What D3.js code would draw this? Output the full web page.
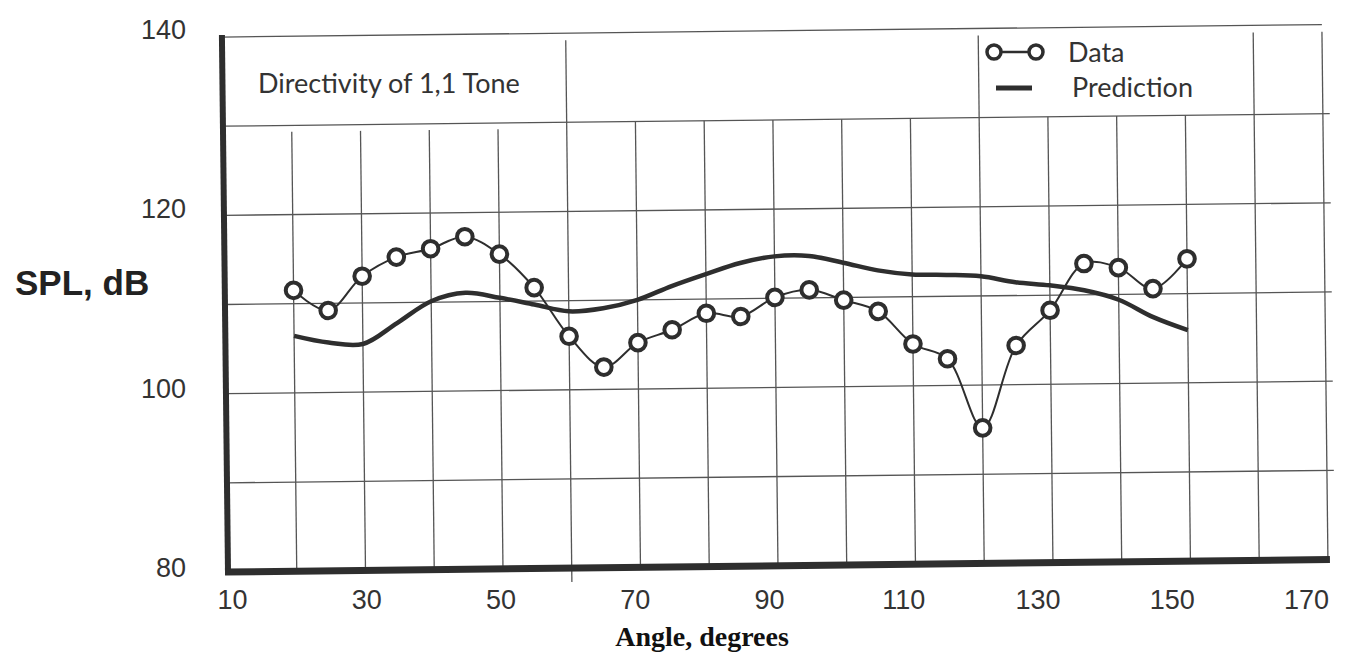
<!DOCTYPE html>
<html>
<head>
<meta charset="utf-8">
<script src="https://cdn.jsdelivr.net/npm/d3@7"></script>
<style>
  body { margin: 0; background: #fff; }
  svg { display: block; }
</style>
</head>
<body>
<svg id="chart" width="1351" height="652"></svg>
<script>
// angle (degrees) of each measurement
const angles = [20, 25, 30, 35, 40, 45, 50, 55, 60, 65, 70, 75, 80, 85, 90,
  95, 100, 105, 110, 115, 120, 125, 130, 135, 140, 145, 150];
// measured SPL, dB
const dataSPL = [111.5, 109.2, 113.0, 115.1, 116.0, 117.3, 115.3, 111.5, 106.0,
  102.5, 105.2, 106.6, 108.4, 108.0, 110.1, 110.9, 109.7, 108.4, 104.7, 103.0,
  95.2, 104.4, 108.3, 113.5, 113.0, 110.6, 113.9];
// predicted SPL, dB
const predSPL = [106.4, 105.6, 105.4, 107.7, 110.1, 111.0, 110.4, 109.6, 108.8,
  109.1, 110.0, 111.5, 112.8, 114.0, 114.7, 114.7, 113.9, 113.0, 112.5, 112.4,
  112.2, 111.5, 111.1, 110.5, 109.4, 107.4, 105.9];

const xTicks = [10, 30, 50, 70, 90, 110, 130, 150, 170];
const yTicks = [80, 100, 120, 140];
const xGrid = [20, 30, 40, 50, 60, 70, 80, 90, 100, 110, 120, 130, 140, 150, 160, 170];
const xGridTall = [60, 120, 160, 170];
const yGrid = [90, 100, 110, 120, 130];

const ox = 228, oy = 572, W = 1100, H = 535, tilt = -0.65;
const ink = "#2e2e2e";

const svg = d3.select("#chart");
const x = d3.scaleLinear().domain([10, 170]).range([0, W]);
const y = d3.scaleLinear().domain([80, 140]).range([0, -H]);

// the whole plot frame is drawn slightly tilted, like the scanned original
const g = svg.append("g")
  .attr("transform", `translate(${ox},${oy}) rotate(${tilt})`);

// grid
g.append("g").selectAll("line")
  .data(yGrid)
  .enter()
  .append("line")
  .attr("x1", 0).attr("x2", x(171))
  .attr("y1", d => y(d)).attr("y2", d => y(d))
  .style("stroke", "#555").style("stroke-width", 1.3);

g.append("line")
  .attr("x1", 0).attr("x2", x(170))
  .attr("y1", y(140)).attr("y2", y(140))
  .style("stroke", "#555").style("stroke-width", 1.3);

g.append("g").selectAll("line")
  .data(xGrid)
  .enter()
  .append("line")
  .attr("x1", d => x(d)).attr("x2", d => x(d))
  .attr("y1", 0)
  .attr("y2", d => xGridTall.includes(d) ? y(139.2) : (d <= 50 ? y(129.3) : y(130)))
  .style("stroke", "#555").style("stroke-width", 1.3);

// little tick under the axis at 60
g.append("line")
  .attr("x1", x(60)).attr("x2", x(60))
  .attr("y1", 0).attr("y2", 14)
  .style("stroke", "#555").style("stroke-width", 1.3);

// axes (thick dark lines)
g.append("line")
  .attr("x1", 0).attr("x2", 0)
  .attr("y1", y(140) - 2).attr("y2", 3)
  .style("stroke", ink).style("stroke-width", 6);
g.append("line")
  .attr("x1", -3).attr("x2", x(170) + 2)
  .attr("y1", 0).attr("y2", 0)
  .style("stroke", ink).style("stroke-width", 7);

// prediction curve
const pts = angles.map((a, i) => ({ a: a, d: dataSPL[i], p: predSPL[i] }));

g.append("path")
  .datum(pts)
  .attr("d", d3.line().x(d => x(d.a)).y(d => y(d.p)).curve(d3.curveCatmullRom.alpha(0.5)))
  .style("fill", "none")
  .style("stroke", ink)
  .style("stroke-width", 4.5);

// data curve + circles
g.append("path")
  .datum(pts)
  .attr("d", d3.line().x(d => x(d.a)).y(d => y(d.d)).curve(d3.curveCatmullRom.alpha(0.5)))
  .style("fill", "none")
  .style("stroke", ink)
  .style("stroke-width", 2);

g.append("g").selectAll("circle")
  .data(pts)
  .enter()
  .append("circle")
  .attr("cx", d => x(d.a))
  .attr("cy", d => y(d.d))
  .attr("r", 7.8)
  .style("fill", "#fff")
  .style("stroke", ink)
  .style("stroke-width", 4);

// tick labels, kept upright
const xAxis = d3.axisBottom(d3.scaleLinear().domain([10, 170]).range([ox + 4, ox + W - 22]))
  .tickValues(xTicks).tickSize(0).tickPadding(0);
svg.append("g")
  .attr("transform", "translate(0,590)")
  .call(xAxis)
  .call(s => s.select(".domain").remove())
  .selectAll("text")
  .attr("dy", "0.71em")
  .style("font-family", "'Liberation Sans', Arial, sans-serif")
  .style("font-size", "27px")
  .style("fill", "#333");

const yAxis = d3.axisLeft(d3.scaleLinear().domain([80, 140]).range([oy - 4, 30]))
  .tickValues(yTicks).tickSize(0).tickPadding(0);
svg.append("g")
  .attr("transform", "translate(186,0)")
  .call(yAxis)
  .call(s => s.select(".domain").remove())
  .selectAll("text")
  .style("font-family", "'Liberation Sans', Arial, sans-serif")
  .style("font-size", "27px")
  .style("fill", "#333");

// axis titles
svg.append("text")
  .attr("x", 15).attr("y", 295)
  .text("SPL, dB")
  .style("font-family", "'Liberation Sans', Arial, sans-serif")
  .style("font-weight", "bold")
  .style("font-size", "35px")
  .style("fill", "#222");

svg.append("text")
  .attr("x", 702).attr("y", 646)
  .attr("text-anchor", "middle")
  .text("Angle, degrees")
  .style("font-family", "'Liberation Serif', 'Times New Roman', serif")
  .style("font-weight", "bold")
  .style("font-size", "28px")
  .style("fill", "#111");

// title inside the top band
svg.append("text")
  .attr("x", 258).attr("y", 93)
  .text("Directivity of 1,1 Tone")
  .style("font-family", "Lato, 'Open Sans', sans-serif")
  .style("font-size", "27px")
  .style("fill", "#333");

// legend
const lg = svg.append("g").attr("class", "legend");
lg.append("line")
  .attr("x1", 994).attr("x2", 1036).attr("y1", 52).attr("y2", 52)
  .style("stroke", ink).style("stroke-width", 2.5);
lg.selectAll("circle")
  .data([994, 1036])
  .enter()
  .append("circle")
  .attr("cx", d => d).attr("cy", 52).attr("r", 7)
  .style("fill", "#fff").style("stroke", ink).style("stroke-width", 3.5);
lg.append("line")
  .attr("x1", 996).attr("x2", 1032).attr("y1", 88).attr("y2", 88)
  .style("stroke", ink).style("stroke-width", 5);
lg.append("text")
  .attr("x", 1068).attr("y", 62)
  .text("Data")
  .style("font-family", "Lato, 'Open Sans', sans-serif")
  .style("font-size", "27px").style("fill", "#333");
lg.append("text")
  .attr("x", 1072).attr("y", 97)
  .text("Prediction")
  .style("font-family", "Lato, 'Open Sans', sans-serif")
  .style("font-size", "27px").style("fill", "#333");
</script>
</body>
</html>
